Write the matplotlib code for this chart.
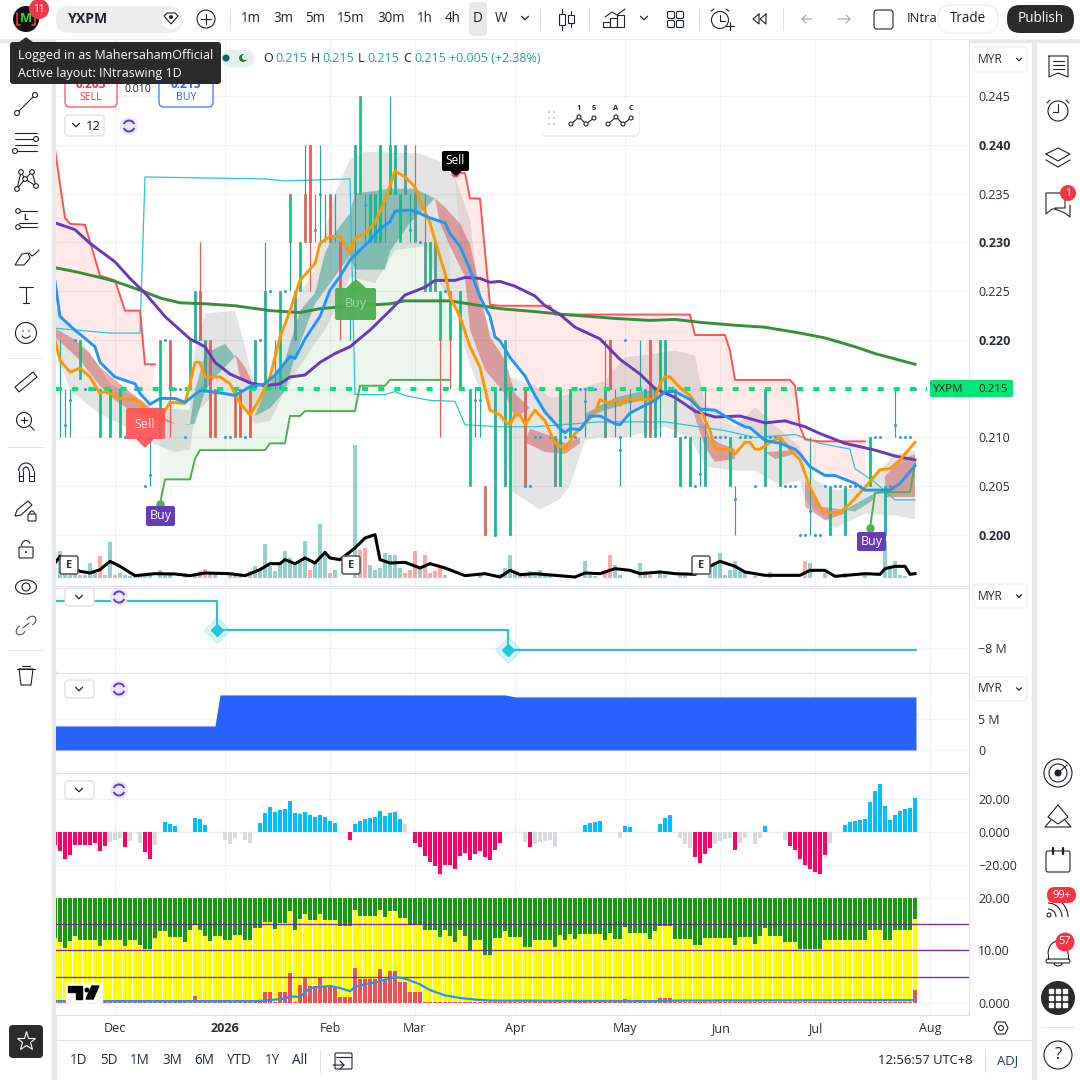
"""
plot.py
-------
YXPM daily chart with five stacked panes, drawn as a trading terminal screenshot.
"""

import numpy as np
import matplotlib
matplotlib.use("Agg")
import matplotlib.pyplot as plt
from matplotlib.patches import Rectangle, FancyBboxPatch, Circle, Polygon, Arc

plt.rcParams["font.family"] = ["Open Sans", "DejaVu Sans"]

W, H = 1080, 1080
PANE_L, PANE_R = 56, 969

# ---- time axis ----
month_idx = [12, 34, 55, 72, 92, 114, 133, 152, 175]
month_labels = ["Dec", "2026", "Feb", "Mar", "Apr", "May", "Jun", "Jul", "Aug"]

# ---- price pane: ticks ----
price_ticks = [0.245, 0.240, 0.235, 0.230, 0.225, 0.220, 0.215, 0.210, 0.205, 0.200]
bold_ticks = [0.240, 0.230, 0.220, 0.200]
last_price = 0.215

# candle bodies: bar, top, bottom, kind (g green, r red, m green with red edge)
bodies = [
    (5, .22, .216, "m"), (9, .215, .21, "m"), (11, .215, .21, "g"), (13, .215, .21, "g"),
    (21, .22, .21, "m"), (23, .22, .215, "r"), (27, .22, .215, "m"), (28, .225, .22, "g"),
    (29, .225, .22, "r"), (30, .22, .215, "r"), (31, .22, .21, "r"), (32, .215, .21, "m"),
    (36, .215, .21, "m"), (37, .215, .21, "r"), (39, .215, .21, "r"), (40, .22, .215, "g"),
    (42, .225, .215, "g"), (45, .225, .215, "m"), (47, .235, .23, "m"), (48, .225, .22, "r"),
    (49, .23, .225, "m"), (50, .235, .23, "m"), (51, .24, .23, "r"), (55, .235, .23, "r"),
    (57, .23, .225, "r"), (60, .24, .235, "g"), (61, .245, .235, "m"), (63, .235, .23, "g"),
    (64, .235, .23, "g"), (65, .24, .23, "g"), (67, .24, .235, "g"), (68, .24, .235, "g"),
    (69, .235, .23, "g"), (70, .24, .235, "r"), (72, .235, .23, "r"), (74, .23, .225, "r"),
    (75, .23, .225, "g"), (76, .23, .225, "r"), (77, .225, .22, "m"), (79, .225, .22, "m"),
    (81, .225, .215, "g"), (83, .215, .205, "m"), (86, .205, .2, "m"), (88, .215, .2, "g"),
    (90, .22, .205, "g"), (91, .215, .2, "g"), (94, .215, .205, "m"), (100, .21, .205, "r"),
    (101, .215, .205, "g"), (103, .215, .21, "g"), (110, .215, .21, "r"), (111, .22, .215, "r"),
    (118, .215, .21, "g"), (119, .22, .21, "r"), (120, .215, .21, "g"), (121, .22, .215, "g"),
    (122, .22, .215, "g"), (124, .215, .21, "r"), (125, .21, .205, "g"), (127, .21, .205, "g"),
    (130, .21, .205, "g"), (135, .21, .205, "g"), (142, .215, .205, "g"), (145, .21, .205, "g"),
    (155, .205, .2, "g"), (158, .205, .2, "g"), (163, .21, .205, "g"), (166, .205, .2, "g"),
]
teal_wicks = [
    (1, .22, .21), (2, .215, .21), (3, .215, .21), (19, .21, .205), (42, .23, .225),
    (44, .22, .215), (47, .23, .225), (50, .24, .235), (53, .24, .23), (54, .235, .23),
    (56, .235, .23), (59, .225, .22), (60, .235, .225), (62, .235, .23), (66, .235, .23),
    (67, .245, .24), (71, .235, .23), (84, .215, .21), (85, .215, .21), (106, .215, .21),
    (112, .215, .21), (113, .21, .205), (115, .215, .21), (117, .22, .215), (121, .215, .21),
    (129, .21, .205), (130, .215, .21), (136, .205, .2), (151, .21, .2), (168, .215, .21),
]
red_wicks = [
    (23, .215, .21), (29, .23, .225), (51, .23, .225), (52, .235, .23), (57, .225, .22),
    (72, .24, .235), (74, .235, .23), (77, .22, .21), (79, .22, .215), (110, .22, .215),
]
# small blue dots on the candles, by price level
dots_at_level = {
    .200: [88, 149, 150, 152, 153],
    .205: [94, 95, 128, 140, 146, 147, 148, 154, 156, 157, 159, 160, 161, 167],
    .210: [14, 17, 26, 34, 35, 38, 96, 97, 99, 100, 102, 104, 113, 126, 132, 133, 134,
           137, 138, 139, 143, 144, 164, 165, 169, 170, 171],
    .215: [6, 8, 16, 24, 25, 33, 89, 92, 105, 106, 107, 108, 172],
    .220: [4, 22, 41, 114],
    .225: [43, 46, 78],
    .235: [53],
    .230: [73],
}
other_dots = [(2, .2113), (3, .2138), (18, .2050), (19, .2062), (44, .2188), (52, .2313),
              (62, .2338), (71, .2313), (84, .2138), (85, .2138), (106, .2137), (113, .2087),
              (115, .2137), (129, .2063), (136, .2037), (151, .2025), (168, .2113)]

# moving averages and trail lines, (bar, price)
orange_ma = [
    (0, .2200), (1, .2179), (3, .2167), (5, .2171), (7, .2162), (9, .2145), (10, .2147),
    (13, .2140), (16, .2139), (18, .2131), (19, .2117), (21, .2119), (23, .2136), (26, .2135),
    (27, .2155), (28, .2177), (29, .2177), (30, .2162), (33, .2162), (35, .2155), (37, .2135),
    (39, .2123), (41, .2140), (43, .2162), (45, .2203), (47, .2230), (49, .2261), (52, .2278),
    (53, .2299), (55, .2306), (57, .2306), (59, .2289), (60, .2304), (62, .2309), (64, .2320),
    (66, .2343), (68, .2373), (70, .2367), (72, .2357), (73, .2343), (75, .2320), (77, .2285),
    (78, .2268), (79, .2244), (81, .2224), (83, .2193), (85, .2172), (87, .2128), (89, .2123),
    (90, .2117), (91, .2113), (92, .2123), (93, .2123), (94, .2113), (96, .2128), (98, .2117),
    (100, .2094), (102, .2088), (104, .2104), (106, .2114), (108, .2125), (109, .2139),
    (111, .2134), (112, .2139), (113, .2133), (114, .2139), (120, .2139), (121, .2155),
    (122, .2162), (123, .2162), (125, .2151), (127, .2143), (129, .2129), (131, .2107),
    (132, .2088), (135, .2088), (136, .2083), (138, .2095), (139, .2095), (140, .2088),
    (141, .2088), (143, .2095), (145, .2100), (147, .2088), (149, .2077), (151, .2049),
    (153, .2029), (154, .2023), (157, .2023), (159, .2032), (162, .2049), (165, .2067),
    (167, .2068), (169, .2077), (172, .2095),
]
blue_ma = [
    (0, .2260), (1, .2224), (4, .2210), (8, .2193), (9, .2177), (12, .2162), (16, .2155),
    (17, .2145), (19, .2134), (21, .2140), (24, .2140), (26, .2136), (29, .2148), (31, .2147),
    (34, .2145), (36, .2143), (39, .2152), (42, .2155), (44, .2164), (47, .2183), (48, .2181),
    (50, .2201), (53, .2224), (55, .2251), (57, .2265), (59, .2282), (61, .2292), (63, .2302),
    (65, .2314), (67, .2321), (68, .2332), (71, .2333), (72, .2332), (75, .2325), (78, .2320),
    (79, .2309), (81, .2296), (83, .2272), (85, .2244), (87, .2224), (88, .2203),
    (89, .2199), (91, .2182), (94, .2163), (96, .2143), (98, .2126), (101, .2109), (102, .2105),
    (103, .2109), (105, .2108), (107, .2122), (109, .2122), (112, .2114), (113, .2113),
    (115, .2125), (118, .2133), (120, .2138), (122, .2147), (124, .2147), (127, .2139),
    (129, .2129), (132, .2128), (136, .2116), (138, .2111), (139, .2110), (142, .2097),
    (145, .2094), (148, .2088), (149, .2083), (151, .2070), (154, .2061), (156, .2061),
    (160, .2053), (162, .2046), (167, .2046), (169, .2053), (172, .2071),
]
purple_ma = [
    (0, .2320), (4, .2313), (7, .2299), (12, .2280), (15, .2263), (18, .2248), (22, .2224),
    (27, .2201), (30, .2193), (32, .2177), (35, .2165), (39, .2156), (42, .2153), (45, .2155),
    (47, .2162), (50, .2164), (53, .2177), (56, .2186), (59, .2193), (63, .2210), (67, .2230),
    (70, .2246), (74, .2254), (76, .2261), (80, .2261), (82, .2264), (85, .2263), (87, .2259),
    (89, .2260), (92, .2255), (96, .2245), (98, .2235), (101, .2226), (104, .2213), (109, .2201),
    (113, .2180), (117, .2165), (120, .2150), (124, .2141), (128, .2127), (132, .2121),
    (137, .2122), (142, .2115), (146, .2117), (150, .2111), (153, .2104), (158, .2094),
    (164, .2087), (168, .2081), (172, .2077),
]
green_ma = [
    (0, .2274), (4, .2270), (9, .2264), (12, .2260), (17, .2251), (21, .2243), (25, .2238),
    (30, .2237), (36, .2235), (43, .2230), (49, .2228), (53, .2232), (60, .2235), (67, .2237),
    (70, .2240), (79, .2240), (84, .2236), (89, .2232), (96, .2229), (102, .2226), (112, .2222),
    (119, .2220), (124, .2221), (129, .2218), (136, .2215), (142, .2213), (149, .2207),
    (154, .2202), (160, .2193), (164, .2186), (172, .2175),
]
red_trail_a = [(0, .2395), (2, .2325), (3, .2319), (6, .2318), (9, .2266), (12, .2261),
               (14, .2230), (17, .2230), (18, .2175), (20, .2175)]
red_trail_b = [(80, .2371), (82, .2371), (83, .2345), (85, .2345), (87, .2236), (89, .2235),
               (99, .2235), (100, .2226), (127, .2226), (128, .2205), (134, .2205), (135, .2189),
               (136, .2159), (147, .2159), (148, .2153), (149, .2111), (150, .2098), (153, .2096),
               (162, .2096)]
green_trail_a = [(21, .2032), (22, .2057), (27, .2057), (28, .2078), (29, .2087), (42, .2087),
                 (43, .2094), (46, .2094), (47, .2122), (49, .2122), (50, .2127), (60, .2127),
                 (61, .2153), (66, .2153), (67, .2159), (79, .2159)]
green_trail_b = [(163, .2007), (164, .2043), (166, .2044), (171, .2044), (172, .2073)]
cyan_line = [
    (0, .2212), (11, .2207), (17, .2207), (18, .2367), (42, .2365), (46, .2363), (59, .2365),
    (60, .2144), (66, .2144), (68, .2147), (70, .2143), (75, .2138), (80, .2137), (82, .2113),
    (89, .2111), (96, .2111), (109, .2116), (122, .2116), (134, .2107), (140, .2100),
    (148, .2103), (153, .2094), (159, .2088), (160, .2068), (164, .2054), (168, .2036),
    (172, .2036),
]
# channel around price
gray_upper = [
    (0, .2234), (4, .2210), (7, .2186), (11, .2155), (14, .2147), (20, .2131), (27, .2128),
    (28, .2193), (30, .2227), (36, .2230), (38, .2193), (40, .2152), (43, .2159), (46, .2217),
    (49, .2248), (52, .2272), (56, .2350), (59, .2385), (62, .2393), (73, .2391), (77, .2383),
    (80, .2367), (83, .2323), (85, .2237), (87, .2210), (90, .2186), (91, .2162), (96, .2153),
    (99, .2141), (102, .2143), (105, .2150), (110, .2158), (114, .2182), (117, .2184),
    (124, .2189), (128, .2184), (130, .2134), (136, .2111), (140, .2131), (149, .2090),
    (152, .2056), (156, .2046), (162, .2049), (168, .2083), (172, .2087),
]
gray_lower = [
    (0, .2193), (3, .2148), (9, .2124), (13, .2114), (20, .2093), (24, .2085), (27, .2088),
    (28, .2124), (32, .2145), (36, .2141), (40, .2114), (43, .2117), (46, .2148), (51, .2189),
    (54, .2210), (59, .2265), (64, .2258), (68, .2292), (74, .2296), (76, .2265), (80, .2234),
    (82, .2189), (85, .2148), (87, .2128), (90, .2111), (91, .2046), (97, .2026), (101, .2037),
    (103, .2051), (106, .2097), (109, .2100), (114, .2100), (122, .2111), (127, .2100),
    (130, .2070), (136, .2066), (140, .2066), (145, .2051), (149, .2056), (150, .2036),
    (156, .2007), (162, .2022), (168, .2020), (172, .2016),
]
# ribbon core, one closed outline per stretch
teal_ribbons = [
    [(25, .2112), (27, .2114), (28, .2148), (30, .2186), (34, .2196), (36, .2183), (34, .2172),
     (32, .2162), (30, .2148), (28, .2114)],
    [(40, .2122), (42, .2148), (46, .2179), (49, .2230), (52, .2248), (54, .2289), (56, .2310),
     (59, .2330), (60, .2350), (67, .2355), (72, .2355), (76, .2345), (71, .2320), (67, .2291),
     (66, .2272), (60, .2272), (59, .2286), (56, .2265), (52, .2237), (48, .2183), (46, .2148),
     (43, .2130)],
    [(106, .2124), (112, .2141), (118, .2148), (120, .2147), (120, .2141), (114, .2134),
     (109, .2126), (106, .2119)],
    [(158, .2026), (164, .2043), (164, .2037), (160, .2024)],
]
red_ribbons = [
    [(0, .2212), (4, .2200), (7, .2186), (9, .2172), (13, .2155), (16, .2143), (20, .2126),
     (24, .2114), (20, .2119), (15, .2128), (12, .2138), (9, .2153), (5, .2179), (0, .2203)],
    [(36, .2186), (38, .2172), (40, .2150), (37, .2162)],
    [(76, .2345), (78, .2336), (81, .2319), (83, .2298), (85, .2251), (87, .2203), (90, .2179),
     (92, .2145), (95, .2130), (92, .2120), (90, .2145), (86, .2169), (83, .2210), (82, .2265),
     (79, .2296), (77, .2320)],
    [(95, .2109), (100, .2100), (102, .2094), (105, .2100), (105, .2094), (102, .2083),
     (98, .2085), (94, .2095)],
    [(127, .2136), (129, .2124), (131, .2100), (133, .2094), (136, .2088), (136, .2078),
     (132, .2075), (130, .2090), (128, .2121)],
    [(142, .2085), (148, .2087), (148, .2083), (144, .2078)],
    [(150, .2056), (153, .2029), (158, .2026), (158, .2022), (154, .2015), (150, .2029)],
    [(166, .2060), (169, .2077), (172, .2083), (172, .2039), (166, .2039)],
]

# volume pane values, same arbitrary unit for bars and the black average
vol_up = [(1, 80), (2, 15), (3, 10), (4, 15), (6, 10), (7, 45), (8, 15), (11, 108), (13, 15),
          (14, 10), (15, 5), (16, 5), (17, 10), (18, 10), (19, 10), (21, 25), (22, 8), (23, 8),
          (26, 8), (28, 12), (32, 12), (36, 10), (40, 35), (41, 25), (42, 103), (43, 35),
          (44, 20), (45, 45), (46, 80), (47, 60), (48, 40), (49, 50), (50, 110), (52, 50),
          (53, 163), (54, 70), (56, 25), (60, 400), (63, 40), (64, 25), (65, 30), (66, 75),
          (67, 70), (68, 68), (69, 30), (73, 30), (78, 10), (85, 15), (89, 12), (90, 30),
          (91, 68), (92, 15), (93, 10), (95, 20), (96, 10), (97, 25), (98, 15), (99, 8),
          (106, 50), (107, 8), (108, 5), (112, 40), (113, 10), (117, 45), (118, 20), (121, 20),
          (122, 10), (125, 15), (126, 10), (131, 30), (132, 45), (133, 75), (134, 10), (135, 25),
          (136, 50), (137, 20), (138, 15), (151, 45), (154, 15), (158, 15), (162, 15), (166, 110),
          (167, 30), (168, 50), (169, 8), (170, 5)]
vol_down = [(5, 10), (9, 65), (10, 10), (12, 10), (29, 22), (30, 28), (31, 18), (35, 15),
            (37, 8), (39, 22), (51, 25), (55, 15), (61, 85), (62, 90), (70, 15), (71, 25),
            (72, 80), (74, 70), (75, 15), (76, 20), (77, 30), (94, 8), (110, 25), (111, 68),
            (119, 10), (140, 5), (143, 18), (150, 50)]
vol_avg = [
    (0, 45), (1, 65), (3, 35), (5, 20), (7, 15), (9, 25), (11, 50), (13, 35), (16, 7), (20, 13),
    (24, 12), (27, 7), (30, 15), (35, 13), (38, 7), (41, 25), (43, 43), (45, 43), (46, 55),
    (48, 43), (50, 60), (52, 45), (54, 77), (55, 60), (57, 55), (60, 90), (62, 120), (64, 130),
    (65, 55), (67, 45), (70, 47), (73, 30), (75, 43), (78, 30), (82, 7), (86, 13), (89, 3),
    (91, 23), (93, 10), (96, 13), (100, 8), (104, 3), (106, 15), (109, 13), (112, 28), (115, 23),
    (117, 13), (121, 18), (124, 13), (128, 11), (132, 43), (133, 50), (136, 35), (138, 18),
    (142, 8), (149, 8), (151, 23), (154, 23), (156, 5), (162, 13), (165, 11), (166, 28),
    (168, 35), (170, 35), (171, 11), (172, 13),
]

# pane 2, pane 3
step_idx = [0, 32.4, 90.6, 172.2]
step_vals = [-5.65, -7.1, -8.1, -8.1]
area_idx = [0, 32, 33, 90, 92, 172.2]
area_vals = [3.87, 3.87, 8.87, 8.87, 8.55, 8.55]

# pane 4, oscillator per bar
hist_vals = [
    -7.7, -11.3, -16.2, -13.7, -7.7, -7.7, -7.7, -7.7, -6.9, -11.3,
    -8.3, -5.9, -4.6, -3.4, -8.9, -5.3, 0, -6.5, -11.9, -16.2,
    -7.7, 0, 6.3, 5.1, 3.8, 0, 0, 0, 8.7, 8.1,
    4.4, 0, 0, 0, -4.6, -7.1, -3.4, 0, -4.6, -6.5,
    0, 5.7, 11.7, 15.4, 12.3, 13.5, 14.1, 19, 11.7, 11.1,
    12.3, 10.5, 9.3, 10.5, 9.3, 6.9, 5.7, 0, 0, -4.6,
    5.1, 6.9, 8.1, 8.7, 9.3, 12.9, 9.9, 11.7, 12.3, 8.1,
    5.1, 0, -6.5, -8.9, -14.3, -18, -20.4, -25.3, -19.8, -19.8,
    -22.2, -14.3, -12.5, -16.8, -13.1, -11.3, -14.9, -16.8, -10.7, -6.5,
    0, 0, 0, 0, -5.9, -8.9, -7.1, -5.9, -5.3, -4.6,
    -8.9, 0, 0, 0, 0, 0, 4.4, 5.7, 6.3, 6.9,
    0, 0, 0, -3.4, 3.8, 3.2, 0, 0, 0, 0,
    0, 5.1, 8.7, 10.5, 0, -3.4, -7.1, -9.5, -14.9, -18.6,
    -13.1, -9.5, -7.1, -5.3, -4, -3.4, -10.7, -6.5, -3.4, 0,
    -7.1, -3.4, 3.8, 0, 0, 0, -4.6, -8.3, -10.7, -16.2,
    -19.8, -22.2, -24, -25.3, -13.7, -6.5, 0, 0, 4.4, 6.3,
    6.9, 7.5, 8.1, 18.4, 25, 29.3, 16, 7.5, 10.5, 12.9, 14.1, 14.7, 20.8,
]
hist_grey_idx = [11, 12, 13, 15, 17, 20, 34, 35, 36, 38, 39, 70, 94, 96, 97, 98, 99, 100, 113,
                 125, 126, 127, 132, 133, 134, 135, 137, 138, 140, 141, 146, 155]

# pane 5, stacked per bar
yellow_vals = [
    12.4, 11.5, 10.5, 11.7, 12.8, 11.9, 11.9, 11.9, 11.9, 10.9,
    12, 12, 12, 12, 10.9, 12, 12, 11.1, 10.2, 10.2,
    12.4, 13.6, 13.6, 12.6, 12.6, 12.6, 11.5, 13.8, 14.9, 13.8,
    12.8, 11.7, 12.8, 12.8, 11.9, 11.9, 13, 13, 11.9, 11.9,
    14.3, 14.3, 15.5, 15.5, 14.1, 15.3, 15.3, 17.5, 13.9, 16,
    17, 15.8, 15.8, 17, 15.8, 15.8, 15.8, 14.7, 14.7, 14.7,
    17.7, 16.6, 16.6, 16.6, 16.6, 17.7, 16.4, 17.5, 17.5, 16.2,
    16.2, 14.9, 14.9, 14.9, 13.8, 13.8, 13.8, 12.6, 13.8, 12.8,
    11.5, 13.9, 12.8, 9.8, 12, 12, 9.2, 9.2, 12.4, 12.4,
    13.6, 12.6, 12.6, 12.6, 10.7, 10.7, 11.9, 11.9, 11.9, 11.9,
    10.7, 13, 12, 13.2, 12.2, 13.2, 13.2, 13.2, 13.2, 13.2,
    12, 13.4, 12.2, 12.2, 14.5, 13.4, 13.4, 13.4, 13.4, 12.2,
    13.6, 14.7, 14.7, 14.7, 12.2, 12.2, 12.2, 12.2, 11.1, 11.1,
    12.4, 12.4, 12.4, 12.4, 12.4, 12.4, 11.1, 12.6, 12.6, 12.6,
    11.3, 12.8, 14.3, 12.8, 12.8, 12.8, 11.5, 11.5, 11.5, 10.2,
    10.2, 10.2, 10.2, 10.2, 11.9, 11.9, 11.9, 11.9, 11.9, 11.9,
    11.9, 11.9, 11.9, 13.9, 13.9, 13.9, 12, 12, 13.9, 13.9, 13.9, 13.9, 16,
]
red_spikes = {28: 1.3, 42: 2, 43: 2, 45: 2, 46: 2, 47: 5.6, 49: 3.3, 50: 5, 51: 3.2, 52: 3.2,
              53: 4.9, 54: 3.2, 55: 3.2, 56: 3.2, 57: 1.1, 58: 1.1, 59: 1.1, 60: 6.6, 61: 4.5,
              62: 4.5, 63: 4.5, 64: 4.5, 65: 6.4, 66: 4.3, 67: 6, 68: 6, 69: 3.9, 70: 3.9,
              71: 2, 72: 2, 73: 2, 114: .7, 121: .9, 122: .9, 123: .9, 172: 2.4}
stack_line = [(0, .3), (40, .3), (42, .4), (46, .8), (47, 1.2), (49, 1.1), (51, 2.8), (53, 3),
              (55, 3.2), (57, 2.8), (59, 2.2), (60, 3), (62, 3.5), (64, 3.9), (67, 4.6),
              (68, 4.9), (70, 4.6), (73, 3.5), (75, 2.4), (78, 1.4), (81, .9), (84, .6),
              (87, .4), (120, .3), (125, .4), (172, .5)]
level_lines = [15, 10, 5]

COL_GREEN = "#00C982"
COL_RED = "#FF5252"
COL_TEAL = "#26A69A"
GRID = "#F0F1F5"
BORDER = "#E0E3EB"
TXT = "#131722"


def pairs(seq):
    a = np.array(seq, dtype=float)
    return a[:, 0], a[:, 1]


def pane(top, bottom, ymin, ymax, ticks, labels, size=9):
    ax = fig.add_axes([PANE_L / W, 1 - bottom / H, (PANE_R - PANE_L) / W, (bottom - top) / H])
    ax.set_xlim((PANE_L - 55) / 5, (PANE_R - 55) / 5)
    ax.set_ylim(ymin, ymax)
    ax.set_xticks(month_idx)
    ax.set_xticklabels([])
    ax.yaxis.tick_right()
    ax.set_yticks(ticks)
    ax.set_yticklabels(labels, fontsize=size, color="#2A2E39")
    ax.tick_params(length=0, pad=6.5)
    ax.grid(True, color=GRID, lw=0.9)
    ax.set_axisbelow(True)
    for name, sp in ax.spines.items():
        sp.set_visible(name == "right")
        sp.set_color(BORDER)
        sp.set_linewidth(0.8)
    ax.set_zorder(2)
    return ax


def sticks(ax, seq, color):
    for i, hi, lo in seq:
        ax.vlines(i, lo, hi, color=color, lw=0.85, zorder=5)


fig = plt.figure(figsize=(W / 100, H / 100), dpi=100, facecolor="white")

# gutters behind everything
bg = fig.add_axes([0, 0, 1, 1], zorder=0)
bg.set_xlim(0, W)
bg.set_ylim(H, 0)
bg.axis("off")
bg.add_patch(Rectangle((0, 38), W, 4, color="#E8E8E8"))
bg.add_patch(Rectangle((52, 38), 4, H, color="#E8E8E8"))
bg.add_patch(Rectangle((1032, 38), 4, H, color="#E8E8E8"))

# ---- main price pane ----
# the last price tag sits on the 0.215 tick, so that tick keeps no label of its own
ax = pane(40, 587, .245 - (587 - 96) / 9756, .245 + (96 - 40) / 9756, price_ticks,
          ["" if p == last_price else f"{p:.3f}" for p in price_ticks])
for lab, p in zip(ax.get_yticklabels(), price_ticks):
    if p in bold_ticks:
        lab.set_fontweight("bold")

bx, by = pairs(blue_ma)
sx, sy = pairs(red_trail_a)
keep = bx <= 20
ax.fill(np.r_[sx, bx[keep][::-1]], np.r_[sy, by[keep][::-1]], color="#FF5252", alpha=.12, lw=0, zorder=2)
sx2, sy2 = pairs(red_trail_b)
keep = (bx >= 80) & (bx <= 162)
ax.fill(np.r_[sx2, bx[keep][::-1]], np.r_[sy2, by[keep][::-1]], color="#FF5252", alpha=.12, lw=0, zorder=2)
gx, gy = pairs(green_trail_a)
keep = (bx >= 21) & (bx <= 79)
ax.fill(np.r_[gx, bx[keep][::-1]], np.r_[gy, by[keep][::-1]], color="#4CAF50", alpha=.1, lw=0, zorder=2)

ux, uy = pairs(gray_upper)
lx, ly = pairs(gray_lower)
ax.fill(np.r_[ux, lx[::-1]], np.r_[uy, ly[::-1]], color="#9E9E9E", alpha=.28, lw=0, zorder=2)
for rib in teal_ribbons:
    x, y = pairs(rib)
    ax.fill(x, y, color="#1F9080", alpha=.45, lw=0, zorder=3)
for rib in red_ribbons:
    x, y = pairs(rib)
    ax.fill(x, y, color="#C62828", alpha=.38, lw=0, zorder=3)

x, y = pairs(cyan_line)
ax.plot(x, y, color="#26C6DA", lw=0.9, zorder=4)

sticks(ax, teal_wicks, COL_TEAL)
sticks(ax, red_wicks, COL_RED)
for i, hi, lo, kind in bodies:
    face = COL_RED if kind == "r" else COL_GREEN
    edge = COL_RED if kind == "m" else COL_TEAL
    ax.bar(i, hi - lo, bottom=lo, width=.56, color=face, edgecolor=edge, lw=.5, zorder=5)

dx, dy = [], []
for level, idx in dots_at_level.items():
    dx += idx
    dy += [level] * len(idx)
for i, p in other_dots:
    dx.append(i)
    dy.append(p)
ax.scatter(dx, dy, s=5, color="#3D9BD9", lw=0, zorder=6)

ax.plot([0.2, 174.5], [last_price, last_price], color="#00E676", lw=2.9,
        linestyle=(0, (1.5, 2.5)), dash_capstyle="butt", zorder=6)

for seq in [red_trail_a, red_trail_b]:
    x, y = pairs(seq)
    ax.plot(x, y, color="#FF5252", lw=1.4, zorder=6)
for seq in [green_trail_a, green_trail_b]:
    x, y = pairs(seq)
    ax.plot(x, y, color="#4CAF50", lw=1.4, zorder=6)
ax.plot([green_trail_a[0][0], green_trail_b[0][0]], [green_trail_a[0][1], green_trail_b[0][1]],
        ls="none", marker="o", ms=5, color="#4CAF50", zorder=7)
ax.plot([red_trail_b[0][0]], [red_trail_b[0][1]], ls="none", marker="o", ms=5, color="#FF5252", zorder=7)

x, y = pairs(green_ma)
ax.plot(x, y, color="#388E3C", lw=2.1, zorder=7)
x, y = pairs(purple_ma)
ax.plot(x, y, color="#673AB7", lw=2.1, zorder=8)
x, y = pairs(orange_ma)
ax.plot(x, y, color="#FF9800", lw=2.1, zorder=9)
x, y = pairs(blue_ma)
ax.plot(x, y, color="#2196F3", lw=2.1, zorder=10)

# volume shares the price pane, so it gets its own y scale
vax = ax.twinx()
ax.yaxis.tick_right()
vax.set_ylim(-(587 - 578) * 3, (578 - 40) * 3)
vax.axis("off")
x, y = pairs(vol_up)
vax.bar(x, y, width=.8, color="#26A69A", alpha=.5, lw=0, zorder=3)
x, y = pairs(vol_down)
vax.bar(x, y, width=.8, color="#FF5252", alpha=.5, lw=0, zorder=3)
x, y = pairs(vol_avg)
vax.plot(x, y, color="black", lw=2.2, zorder=4)
vax.set_zorder(3)
ax.axhline(ax.get_ylim()[0], color=BORDER, lw=1.4)

# ---- pane 2: cyan steps ----
ax2 = pane(588, 671, -9.15, -5.0, [-8], ["\u22128 M"])
ax2.step(step_idx, step_vals, where="post", color="#26C6DA", lw=1.5, zorder=4)
ax2.plot(step_idx[1:3], [step_vals[1], step_vals[2]], ls="none", marker="D", ms=13,
         color="#26C6DA", alpha=.18, zorder=3)
ax2.plot(step_idx[1:3], [step_vals[1], step_vals[2]], ls="none", marker="D", ms=6.5,
         color="#26C6DA", zorder=5)

# ---- pane 3: blue area ----
ax3 = pane(673, 772, -3.55, 12.4, [0, 5], ["0", "5 M"])
ax3.fill_between(area_idx, 0, area_vals, color="#2962FF", lw=0, zorder=3)

# ---- pane 4: oscillator ----
ax4 = pane(773, 883, -30.9, 35.8, [-20, 0, 20], ["\u221220.00", "0.000", "20.00"])
idx4 = np.arange(len(hist_vals))
cols4 = []
for i, v in zip(idx4, hist_vals):
    if i in hist_grey_idx:
        cols4.append("#D9DADE")
    elif v > 0:
        cols4.append("#00BFFF")
    else:
        cols4.append("#FF0066")
ax4.bar(idx4, hist_vals, width=.8, color=cols4, lw=0, zorder=3)
ax4.plot([1, 172.2], [0, 0], color="#ECECEC", lw=1, ls=(0, (3, 2)), zorder=2)

# ---- pane 5: stacked columns ----
ax5 = pane(884, 1015, -2.35, 22.67, [0, 10, 20], ["0.000", "10.00", "20.00"])
idx5 = np.arange(len(yellow_vals))
red_vals = [red_spikes.get(i, .1) for i in idx5]
ax5.bar(idx5, np.array(20.0) - np.array(yellow_vals), bottom=yellow_vals, width=.8, color="#169B0C", lw=0, zorder=3)
ax5.bar(idx5, yellow_vals, width=.8, color="#FFFF00", lw=0, zorder=3)
ax5.bar(idx5, red_vals, width=.8, color="#F05050", lw=0, zorder=4)
for lvl in level_lines:
    ax5.axhline(lvl, color="#7B1FA2", lw=1, alpha=.95, zorder=5)
x, y = pairs(stack_line)
ax5.plot(x, y, color="#2196F3", lw=1.6, zorder=6)
ax5.spines["bottom"].set_visible(True)
ax5.spines["bottom"].set_color(BORDER)

# month labels under the last pane
ax5.set_xticklabels(month_labels, fontsize=9, color="#2A2E39")
ax5.tick_params(axis="x", pad=5)
ax5.get_xticklabels()[1].set_fontweight("bold")
for other in (ax2, ax3, ax4):
    other.axhline(other.get_ylim()[1], color=BORDER, lw=1.6)

# ---- interface chrome, in screen pixels ----
ui = fig.add_axes([0, 0, 1, 1], zorder=10)
ui.set_xlim(0, W)
ui.set_ylim(H, 0)
ui.axis("off")
ui.patch.set_alpha(0)
INK = "#1E222D"


def t(x, y, s, px=13, color=TXT, ha="left", weight="normal", alpha=1.0, z=20):
    ui.text(x, y, s, fontsize=px * .72, color=color, ha=ha, va="center", fontweight=weight, alpha=alpha, zorder=z)


def box(x0, y0, x1, y1, r=4, fc="white", ec="none", lw=.8, alpha=1.0, z=15):
    ui.add_patch(FancyBboxPatch((x0 + r, y0 + r), x1 - x0 - 2 * r, y1 - y0 - 2 * r,
                                boxstyle=f"round,pad={r},rounding_size={r}", fc=fc, ec=ec, lw=lw,
                                alpha=alpha, zorder=z))


def ln(xs, ys, lw=.8, color=INK, z=18):
    ui.plot(xs, ys, color=color, lw=lw, solid_capstyle="round", zorder=z)


def ring(x, y, r, fc="white", ec=INK, lw=.8, z=18):
    ui.add_patch(Circle((x, y), r, fc=fc, ec=ec, lw=lw, zorder=z))


def chevron(x, y, s=3.5, color=INK):
    ln([x - s, x, x + s], [y - s / 2, y + s / 2, y - s / 2], lw=.9, color=color)


def sync(x, y):
    ring(x, y, 9, fc="#EDE7F6", ec="none")
    ui.add_patch(Arc((x, y), 11, 11, theta1=20, theta2=160, color="#5E35E8", lw=1.4, zorder=19))
    ui.add_patch(Arc((x, y), 11, 11, theta1=200, theta2=340, color="#5E35E8", lw=1.4, zorder=19))


def myr(y0, y1):
    box(973, y0, 1027, y1, r=4, fc="white", ec="#ECECEC")
    t(978, (y0 + y1) / 2, "MYR", 12, "#2A2E39")
    chevron(1019, (y0 + y1) / 2, 2.5)


# top toolbar
ui.add_patch(Rectangle((0, 0), W, 38, color="white", zorder=12))
ring(26, 19, 13, fc="#111111", ec="none")
t(26, 19, "M", 13, "#22DD22", "center", "bold")
ln([17, 17, 20], [13, 25, 25], 1.2, "#E53935")
ln([35, 35, 32], [13, 25, 25], 1.2, "#E53935")
ring(39, 9, 10, fc="#F23645", ec="none")
t(39, 9, "11", 10, "white", "center")
box(56, 6, 182, 33, r=13, fc="#EFEFEF")
t(68, 19, "YXPM", 14, INK, weight="bold")
ring(171, 19, 10, fc="white", ec="none")
ui.add_patch(Polygon([[164, 16], [167, 13], [175, 13], [178, 16], [171, 24]], fc="white", ec=INK, lw=.8, zorder=19))
ring(171, 17, 2, fc=INK, ec="none", z=20)
ring(206, 19, 9)
ln([201, 211], [19, 19])
ln([206, 206], [14, 24])
ln([230, 230], [8, 30], .8, "#E0E0E0")
for lab, x in zip(["1m", "3m", "5m", "15m", "30m", "1h", "4h"], [251, 283, 315, 351, 391, 425, 453]):
    t(x, 19, lab, 13.5, INK, "center")
box(469, 2, 487, 36, r=4, fc="#E9E9E9")
t(478, 19, "D", 13.5, INK, "center")
t(501, 19, "W", 13.5, INK, "center")
chevron(525, 18)
for x in (540, 589, 699, 783):
    ln([x, x], [8, 30], .8, "#E0E0E0")
# candle icon
for x, a, b, c, d in [(562, 9, 14, 25, 30), (571, 11, 15, 23, 27)]:
    ln([x, x], [a, d])
    ui.add_patch(Rectangle((x - 3, b), 6, c - b, fc="white", ec=INK, lw=.8, zorder=19))
# indicators icon
ln([605, 612, 617, 625], [17, 12, 15, 9])
for x, h in [(606, 5), (613, 9), (620, 12)]:
    ui.add_patch(Rectangle((x - 3.5, 27 - h), 7, h, fc="white", ec=INK, lw=.8, zorder=19))
chevron(644, 18)
for x in (671, 680):
    for y in (15, 24):
        box(x - 3.5, y - 3.5, x + 3.5, y + 3.5, r=1.5, fc="white", ec=INK, z=18)
ring(720, 20, 8.5)
ln([720, 720, 725], [15, 21, 21])
ln([711, 714], [11, 9])
ln([729, 726], [11, 9])
ln([726, 734], [26, 26])
ln([730, 730], [22, 30])
ln([759, 753, 759, 759], [14, 19, 24, 14], .8)
ln([766, 760, 766, 766], [14, 19, 24, 14], .8)
ln([812, 802, 806], [19, 19, 15], .8, "#A0A3AB")
ln([802, 806], [19, 23], .8, "#A0A3AB")
ln([838, 850, 846], [19, 19, 15], .8, "#A0A3AB")
ln([850, 846], [19, 23], .8, "#A0A3AB")
box(874, 10, 893, 29, r=3, fc="white", ec=INK)
t(907, 19, "INtra", 13, INK)
box(938, 5, 998, 33, r=13, fc="white", ec="#ECECEC")
t(968, 19, "Trade", 13.5, INK, "center")
box(1007, 5, 1074, 33, r=13, fc="#2B2B2B", z=16)
t(1041, 19, "Publish", 13.5, "white", "center")

# legend row
box(222, 50, 254, 67, r=8, fc="#E3F2EC", z=14)
ring(226, 58, 3.5, fc="#00695C", ec="none")
ring(243, 58, 4, fc="#2E7D32", ec="none")
ring(245, 57, 3, fc="#E3F2EC", ec="none", z=19)
for lab, x_l, x_v in [("O", 263, 275), ("H", 311, 322), ("L", 358, 367), ("C", 403, 414)]:
    t(x_l, 58, lab, 12.5, INK)
    t(x_v, 58, "0.215", 12.5, COL_TEAL)
t(449, 58, "+0.005 (+2.38%)", 12.5, COL_TEAL)

# quick trade buttons
box(65, 70, 117, 107, r=5, fc="white", ec="#F23645")
t(91, 85, "0.203", 12, "#F23645", "center", "bold")
t(91, 98, "SELL", 10.5, "#F23645", "center")
t(138, 90, "0.010", 10.5, INK, "center")
box(159, 70, 213, 107, r=5, fc="white", ec="#2962FF")
t(186, 85, "0.213", 12, "#2962FF", "center", "bold")
t(186, 98, "BUY", 10.5, "#2962FF", "center")
box(65, 115, 104, 136, r=3, fc="white", ec="#DADADA")
chevron(76, 125)
t(93, 126, "12", 13, INK, "center")
sync(129, 126)

# tooltip on top
ui.add_patch(Polygon([[19, 43], [26, 38], [33, 43]], color="#2A2A2A", zorder=22))
box(10, 42, 221, 84, r=3, fc="#2A2A2A", z=22)
t(18, 55, "Logged in as MahersahamOfficial", 12.5, "white", z=23)
t(18, 73, "Active layout: INtraswing 1D", 12.5, "white", z=23)

# floating widget
box(541, 101, 640, 137, r=6, fc="#E5E5E5", alpha=.6, z=13)
box(540, 100, 639, 135, r=6, fc="white", z=14)
for x in (549, 554):
    for y in (112, 118, 124):
        ring(x, y, 1, fc="#C4C4C4", ec="none")
for x0, a, b in [(571, "1", "5"), (608, "A", "C")]:
    ln([x0, x0 + 8, x0 + 15, x0 + 23], [124, 117, 124, 118], .8)
    for dxx, dyy in [(0, 124), (8, 117), (15, 124), (23, 118)]:
        ring(x0 + dxx, dyy, 2)
    t(x0 + 8, 108, a, 7.5, INK, "center", "bold")
    t(x0 + 23, 108, b, 7.5, INK, "center", "bold")

# signal labels on the chart
box(126, 408, 165, 439, r=2, fc="#FF5252", alpha=.9, z=14)
ui.add_patch(Polygon([[137, 439], [153, 439], [145, 447]], color="#FF5252", alpha=.9, zorder=14))
t(145, 424, "Sell", 12.5, "white", "center", alpha=.8)
box(335, 288, 376, 320, r=2, fc="#4CAF50", alpha=.95, z=14)
ui.add_patch(Polygon([[347, 288], [365, 288], [356, 280]], color="#4CAF50", alpha=.95, zorder=14))
t(356, 304, "Buy", 12.5, "white", "center", alpha=.5)
box(146, 506, 175, 526, r=2, fc="#673AB7", z=14)
t(160.5, 516, "Buy", 12.5, "white", "center")
box(857, 532, 886, 551, r=2, fc="#673AB7", z=14)
t(871.5, 541, "Buy", 12.5, "white", "center")
box(442, 151, 469, 171, r=2, fc="black", z=14)
ui.add_patch(Polygon([[451, 171], [461, 171], [456, 175]], color="black", zorder=14))
t(455.5, 161, "Sell", 12, "white", "center")

# E earnings flags
for x in (69, 351, 701):
    box(60 + x - 69, 556, 78 + x - 69, 574, r=2, fc="white", ec="#555555", lw=1.1)
    t(x, 565, "E", 11, "#333333", "center", "bold")

# last price tag
box(930, 380, 1013, 397, r=2, fc="#00E676", z=14)
t(933, 389, "YXPM", 11.5, "#0B2B1A")
t(978, 389, "0.215", 11.5, "#0B2B1A")

# pane controls
myr(47, 72)
box(65, 588, 94, 606, r=3, fc="white", ec="#DADADA")
chevron(79, 597)
sync(119, 597)
myr(584, 608)
box(65, 680, 94, 698, r=3, fc="white", ec="#DADADA")
chevron(79, 689)
sync(119, 689)
myr(677, 701)
box(65, 781, 94, 799, r=3, fc="white", ec="#DADADA")
chevron(79, 790)
sync(119, 790)

# watermark
ui.add_patch(Rectangle((66, 983), 36, 19, color="white", alpha=.95, zorder=14))
ui.add_patch(Polygon([[68, 986], [82, 986], [82, 999], [76, 999], [76, 992], [68, 992]], color="black", zorder=15))
ring(87, 990, 2.5, fc="black", ec="none", z=15)
ui.add_patch(Polygon([[92, 986], [99, 986], [93, 999], [86, 999]], color="black", zorder=15))

# settings hexagon in the scale corner
ui.add_patch(Polygon([[994, 1028], [997, 1022], [1005, 1022], [1008, 1028], [1005, 1034], [997, 1034]], fc="white", ec=INK, lw=.8, zorder=18))
ring(1001, 1028, 2.5)

# bottom bar
ln([56, 1032], [1040, 1040], .8, BORDER)
for lab, x in zip(["1D", "5D", "1M", "3M", "6M", "YTD", "1Y", "All"], [79, 109, 140, 172, 204, 239, 272, 300]):
    t(x, 1061, lab, 13.5, "#1F2A44", "center")
ln([320, 320], [1050, 1072], .8, "#E0E0E0")
box(335, 1053, 352, 1069, r=1, fc="white", ec=INK)
ln([336, 351], [1057, 1057])
ln([333, 344, 340], [1065, 1065, 1061], .8)
ln([344, 340], [1065, 1069], .8)
t(973, 1061, "12:56:57 UTC+8", 13, INK, "right")
ln([985, 985], [1050, 1072], .8, "#E0E0E0")
t(1008, 1061, "ADJ", 13, "#1F3A66", "center")

# left toolbar
ln([17, 35], [113, 95])
ring(17, 113, 2.5)
ring(35, 95, 2.5)
for y, a, b in [(133, 15, 37), (139, 15, 37), (145, 15, 37), (151, 15, 37)]:
    ln([a, b], [y, y])
ring(36, 139, 2.5)
ring(15, 151, 2.5)
ln([17, 21, 25, 32, 36, 25, 17], [189, 172, 179, 172, 186, 179, 189], .8)
for px_, py_ in [(17, 189), (21, 172), (25, 179), (32, 172), (36, 186)]:
    ring(px_, py_, 2.3)
ln([19, 37], [211, 211])
ln([19, 37], [223, 223])
ln([17, 37], [227, 227])
ring(18, 211, 2.3)
ring(18, 227, 2.3)
t(26, 217, "L", 8, INK, "center", "bold")
ui.add_patch(Polygon([[15, 265], [22, 254], [28, 253], [30, 258], [24, 265]], fc="white", ec=INK, lw=.8, zorder=18))
ln([29, 32, 35, 39], [253, 256, 254, 250], .8)
ln([19, 33], [287, 287])
ln([26, 26], [287, 303])
ln([23, 29], [303, 303])
ring(26, 333, 10.5)
ring(23, 331, .7, fc=INK, ec="none")
ring(29, 331, .7, fc=INK, ec="none")
ui.add_patch(Arc((26, 334), 9, 8, theta1=20, theta2=160, color=INK, lw=.8, zorder=19))
ln([8, 44], [358, 358], .8, "#E6E6E6")
ui.add_patch(Polygon([[15, 387], [33, 372], [37, 377], [19, 392]], fc="white", ec=INK, lw=.8, zorder=18))
ring(24, 420, 7.5)
ln([21, 27], [420, 420])
ln([24, 24], [417, 423])
ln([30, 34], [426, 430])
ln([8, 44], [447, 447], .8, "#E6E6E6")
ui.add_patch(Arc((26, 471), 15, 16, theta1=180, theta2=360, color=INK, lw=.8, zorder=19))
ui.add_patch(Arc((26, 471), 6, 8, theta1=180, theta2=360, color=INK, lw=.8, zorder=19))
ln([18.5, 18.5, 23, 23], [471, 481, 481, 471])
ln([29, 29, 33.5, 33.5], [471, 481, 481, 471])
ln([18.5, 23], [476, 476])
ln([29, 33.5], [476, 476])
ui.add_patch(Polygon([[15, 516], [17, 510], [28, 501], [32, 505], [21, 515]], fc="white", ec=INK, lw=.8, zorder=18))
box(28, 514, 36, 521, r=1, fc="white", ec=INK)
ui.add_patch(Arc((32, 514), 5, 6, theta1=180, theta2=360, color=INK, lw=.8, zorder=19))
box(19, 547, 33, 558, r=1, fc="white", ec=INK)
ring(26, 552, 1, fc=INK, ec="none")
ui.add_patch(Arc((26, 546), 9, 11, theta1=180, theta2=330, color=INK, lw=.8, zorder=19))
ui.add_patch(Arc((26, 587), 21, 14, theta1=0, theta2=360, color=INK, lw=.8, zorder=19))
ring(26, 587, 4)
ui.add_patch(Arc((21, 630), 11, 8, angle=-45, theta1=60, theta2=300, color="#555555", lw=.8, zorder=19))
ui.add_patch(Arc((31, 621), 11, 8, angle=-45, theta1=240, theta2=480, color="#555555", lw=.8, zorder=19))
ln([23, 29], [628, 623], .8, "#555555")
ln([8, 44], [650, 650], .8, "#E6E6E6")
ln([17, 35], [669, 669])
ln([22, 30], [666, 666])
ln([19, 21, 31, 33, 19], [669, 685, 685, 669, 669], .8)
box(9, 1025, 43, 1058, r=4, fc="#2B2B2B")
ui.plot([26], [1041], marker="*", ms=14, mfc="none", mec="white", mew=.8, zorder=18)

# right toolbar
ln([1049, 1049, 1058, 1068, 1068, 1049], [56, 77, 73, 77, 56, 56])
for y in (61, 65, 69):
    ln([1053, 1064], [y, y], .8)
ring(1058, 111, 10)
ln([1058, 1058, 1053], [104, 112, 112])
ln([1047, 1050], [103, 100])
ln([1069, 1066], [103, 100])
ln([1046, 1058, 1070, 1058, 1046], [154, 148, 154, 161, 154])
ln([1046, 1058, 1070], [160, 167, 160])
ln([1065, 1046, 1046, 1052, 1056], [193, 193, 214, 209, 209])
ln([1065, 1065, 1055, 1055, 1065, 1070, 1070], [196, 208, 208, 209, 213, 217, 205])
ring(1068, 193, 8, fc="#F23645", ec="none", z=19)
t(1068, 193, "1", 10.5, "white", "center", z=21)
ring(1058, 773, 14)
ring(1058, 773, 9)
ring(1058, 773, 3.5, fc=INK, ec="none")
ln([1058, 1067], [773, 765])
ln([1058, 1048, 1058, 1068, 1058], [805, 817, 824, 817, 805], .8)
ln([1051, 1045, 1071, 1065], [820, 827, 827, 820], .8)
box(1046, 851, 1070, 872, r=2, fc="white", ec=INK)
ln([1053, 1053], [848, 854], 1.6)
ln([1063, 1063], [848, 854], 1.6)
for r in (8, 14, 20):
    ui.add_patch(Arc((1048, 917), 2 * r, 2 * r, theta1=270, theta2=360, color=INK, lw=.8, zorder=18))
ring(1049, 915, 2)
box(1047, 887, 1076, 903, r=8, fc="#F23645", z=19)
t(1061.5, 895, "99+", 11, "white", "center", z=21)
ui.add_patch(Arc((1058, 954), 20, 26, theta1=180, theta2=360, color=INK, lw=.8, zorder=18))
ln([1048, 1048], [954, 959])
ln([1068, 1068], [954, 959])
box(1046, 959, 1070, 963, r=2, fc="white", ec=INK)
ui.add_patch(Arc((1058, 963), 8, 6, theta1=0, theta2=180, color=INK, lw=.8, zorder=18))
ring(1065, 942, 9.5, fc="#F23645", ec="none", z=19)
t(1065, 942, "57", 11, "white", "center", z=21)
ring(1058, 998, 17, fc="#2B2B2B", ec="none")
for x in (1051, 1058, 1065):
    for y in (991, 998, 1005):
        ui.add_patch(Rectangle((x - 2.2, y - 2.2), 4.4, 4.4, color="white", zorder=19))
ln([1042, 1074], [1027, 1027], .8, "#E6E6E6")
ring(1058, 1055, 14)
t(1058, 1055, "?", 17, INK, "center")

fig.savefig("out.png", dpi=100, facecolor="white")
